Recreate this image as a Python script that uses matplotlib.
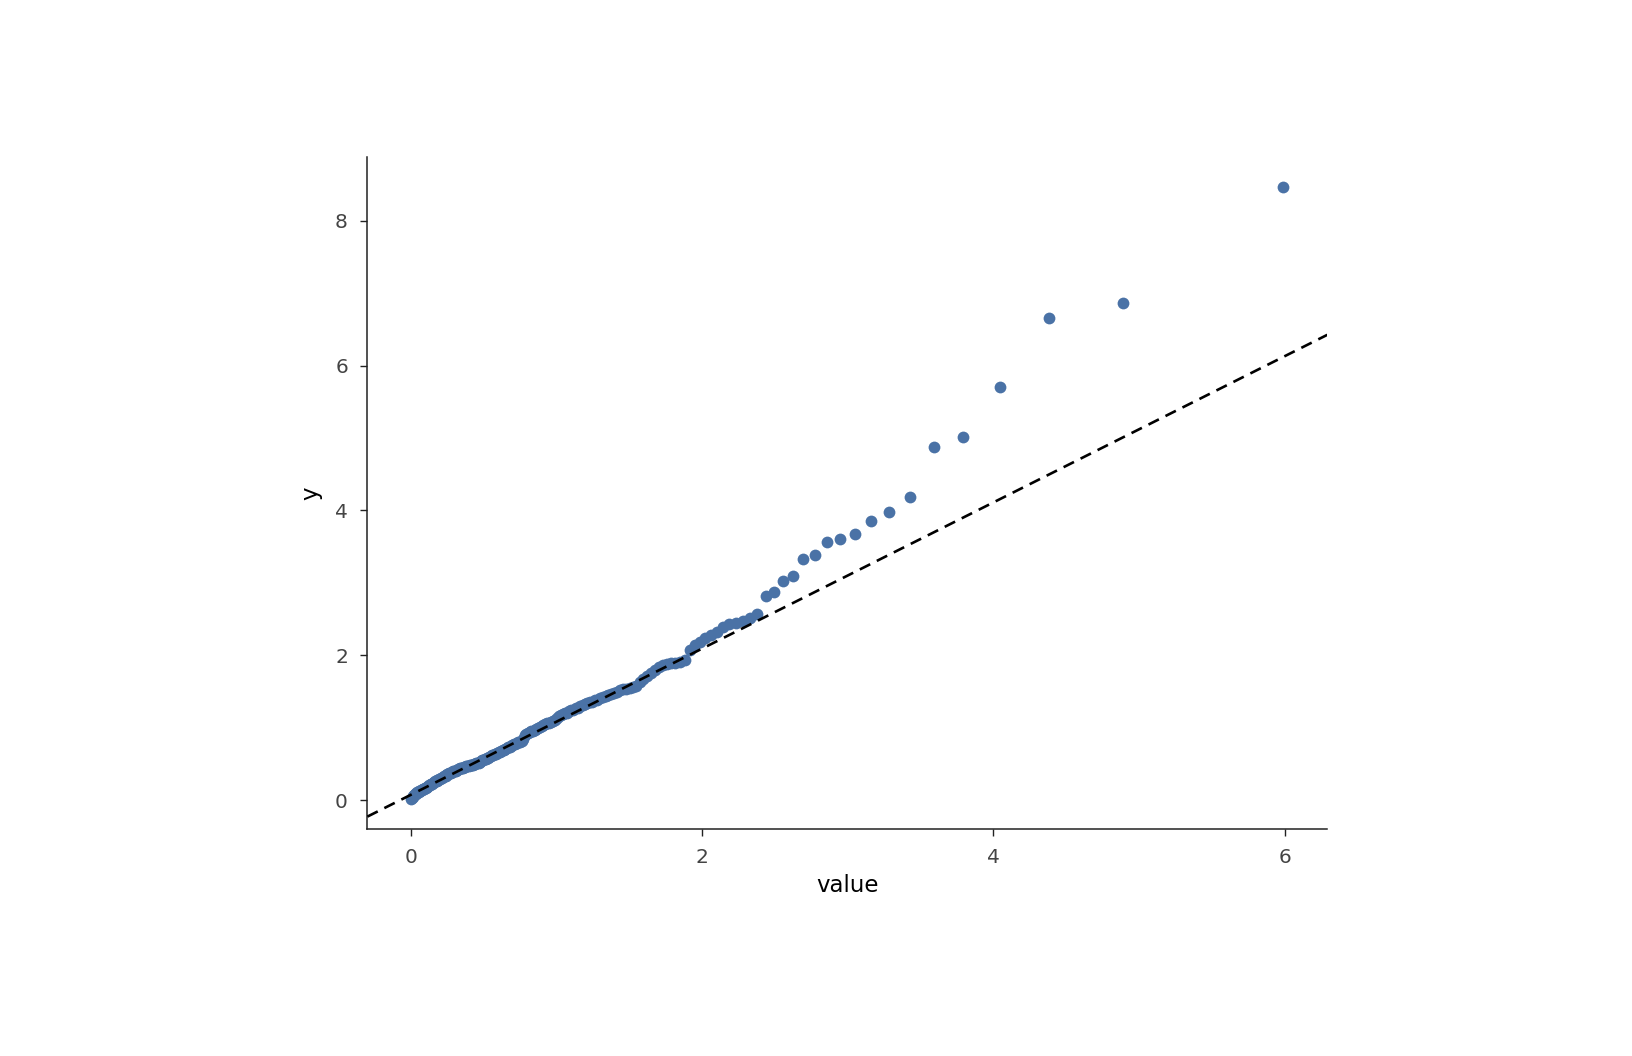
import numpy as np
import matplotlib
matplotlib.use("Agg")
import matplotlib.pyplot as plt

# Sorted sample values, n = 200
sample_y = [
    0.02, 0.03, 0.05, 0.06, 0.07, 0.08, 0.09, 0.10, 0.11, 0.12,
    0.12, 0.13, 0.13, 0.14, 0.14, 0.15, 0.16, 0.16, 0.17, 0.17,
    0.18, 0.19, 0.20, 0.21, 0.21, 0.22, 0.23, 0.23, 0.24, 0.25,
    0.26, 0.26, 0.27, 0.28, 0.28, 0.29, 0.30, 0.31, 0.31, 0.32,
    0.33, 0.33, 0.34, 0.35, 0.36, 0.36, 0.37, 0.38, 0.38, 0.39,
    0.40, 0.40, 0.41, 0.41, 0.42, 0.43, 0.43, 0.44, 0.44, 0.45,
    0.45, 0.46, 0.46, 0.47, 0.47, 0.47, 0.48, 0.48, 0.49, 0.49,
    0.50, 0.50, 0.51, 0.52, 0.52, 0.53, 0.54, 0.55, 0.56, 0.57,
    0.57, 0.58, 0.59, 0.60, 0.61, 0.62, 0.63, 0.64, 0.64, 0.65,
    0.66, 0.67, 0.68, 0.69, 0.70, 0.71, 0.72, 0.73, 0.74, 0.75,
    0.76, 0.77, 0.78, 0.79, 0.80, 0.81, 0.82, 0.85, 0.90, 0.91,
    0.93, 0.94, 0.95, 0.96, 0.97, 0.99, 1.00, 1.01, 1.03, 1.04,
    1.05, 1.06, 1.07, 1.08, 1.09, 1.11, 1.13, 1.16, 1.18, 1.19,
    1.20, 1.21, 1.23, 1.24, 1.25, 1.27, 1.28, 1.30, 1.31, 1.33,
    1.34, 1.35, 1.36, 1.38, 1.39, 1.41, 1.42, 1.44, 1.45, 1.46,
    1.48, 1.50, 1.52, 1.53, 1.54, 1.55, 1.56, 1.58, 1.63, 1.67,
    1.72, 1.76, 1.80, 1.84, 1.87, 1.88, 1.89, 1.90, 1.91, 1.93,
    2.08, 2.14, 2.19, 2.24, 2.28, 2.32, 2.39, 2.43, 2.45, 2.48,
    2.52, 2.57, 2.82, 2.87, 3.03, 3.10, 3.33, 3.39, 3.57, 3.60,
    3.67, 3.85, 3.98, 4.18, 4.87, 5.01, 5.71, 6.66, 6.86, 8.46,
]

# Reference line
line_intercept = 0.075
line_slope = 1.009

x_ticks = [0, 2, 4, 6]
y_ticks = [0, 2, 4, 6, 8]
x_label = "value"
y_label = "y"

# Theoretical exponential quantiles for the QQ plot
n = len(sample_y)
probs = (np.arange(1, n + 1) - 0.5) / n
theoretical_x = -np.log(1.0 - probs)

fig = plt.figure(figsize=(16.32, 10.56), dpi=100)
ax = fig.add_axes([0.2251, 0.2150, 0.8133 - 0.2251, 0.8516 - 0.2150])

ax.scatter(theoretical_x, sample_y, s=72, color="#4a72a6", linewidths=0, zorder=2)
ax.axline((0, line_intercept), slope=line_slope, color="black", lw=1.9,
          linestyle=(0, (4.4, 2.8)), zorder=3)

ax.set_xlim(-0.298, 6.293)
ax.set_ylim(-0.396, 8.883)
ax.set_xticks(x_ticks)
ax.set_yticks(y_ticks)

for s in ["top", "right"]:
    ax.spines[s].set_visible(False)
for s in ["left", "bottom"]:
    ax.spines[s].set_linewidth(1.1)
    ax.spines[s].set_color("#222222")

ax.tick_params(axis="both", length=5, width=1.0, color="#222222",
               labelsize=14.5, labelcolor="#444444", pad=9)
ax.set_xlabel(x_label, fontsize=16.5, labelpad=5)
ax.set_ylabel(y_label, fontsize=16.5, labelpad=9)

fig.savefig("out.png", dpi=100, facecolor="white")
